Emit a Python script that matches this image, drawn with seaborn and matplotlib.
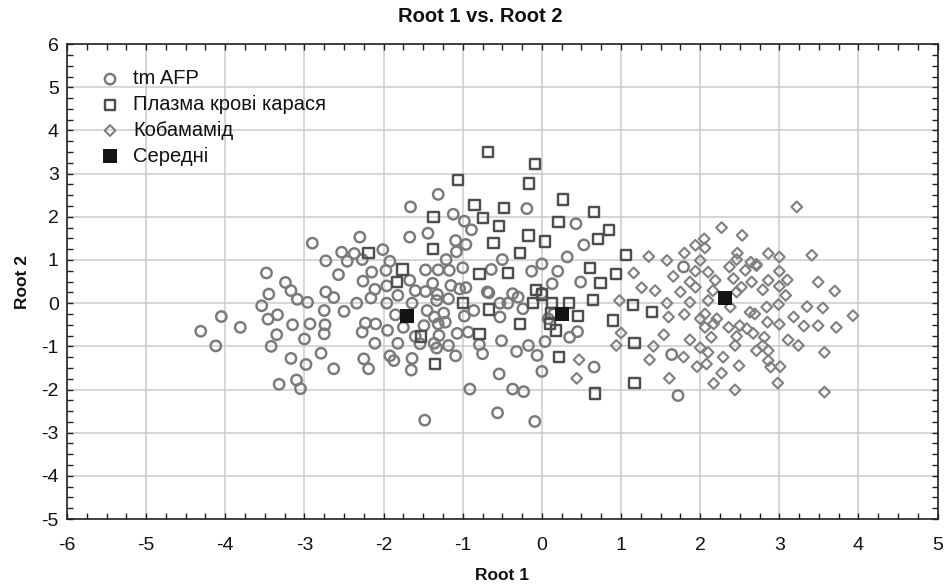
import matplotlib
matplotlib.use("Agg")
import matplotlib.pyplot as plt
from matplotlib.ticker import MultipleLocator
import seaborn as sns
import pandas as pd

# ---- data ----
afp_x = [-4.31, -4.12, -4.05, -3.81, -3.48, -3.45, -3.54, -3.46, -3.34, -3.35, -3.42, -2.90,
         -3.24, -3.17, -3.09, -2.96, -3.15, -2.93, -3.00, -3.17, -2.98, -3.32, -3.10, -3.05,
         -2.73, -2.53, -2.46, -2.57, -2.73, -2.63, -2.75, -2.50, -2.74, -2.75, -2.79, -2.63,
         -1.31, -1.66, -1.12, -0.98, -0.89, -1.44, -1.67, -1.09, -0.96, -1.08, -2.30, -2.01,
         -2.37, -2.27, -1.92, -1.21, -2.15, -1.97, -1.47, -1.31, -1.17, -1.00, -2.26, -2.11,
         -1.96, -1.67, -1.60, -1.47, -1.38, -1.32, -1.15, -1.04, -0.96, -0.69, -2.16, -2.34,
         -1.96, -1.82, -1.64, -1.33, -1.18, -0.86, -1.85, -1.45, -1.36, -1.24, -0.98, -2.23,
         -2.10, -2.27, -1.95, -1.75, -1.49, -1.31, -1.22, -1.07, -0.93, -1.60, -1.30, -2.11,
         -1.82, -1.54, -1.36, -1.18, -0.79, -1.33, -0.75, -1.09, -1.92, -1.87, -2.25, -2.19,
         -1.64, -1.65, -0.91, -1.48, -0.56, -0.37, -0.23, -0.09, -0.54, 0.00, 0.66, -0.19,
         0.43, 0.53, 0.32, 0.00, -0.13, 0.20, 0.49, 0.13, -0.50, -0.64, -0.67, -0.37,
         -0.53, -0.43, -0.24, -0.53, 0.00, 0.15, 0.45, 0.35, 0.04, -0.17, -0.06, -0.32,
         -0.51, -0.30, 0.08, 1.79, 1.64, 1.72]
afp_y = [-0.65, -0.99, -0.31, -0.56, 0.70, 0.21, -0.06, -0.37, -0.27, -0.73, -1.00, 1.39,
         0.48, 0.29, 0.09, 0.02, -0.50, -0.48, -0.83, -1.28, -1.42, -1.88, -1.78, -1.98,
         0.98, 1.18, 0.97, 0.66, 0.26, 0.13, -0.17, -0.19, -0.50, -0.71, -1.16, -1.52,
         2.52, 2.23, 2.06, 1.90, 1.70, 1.62, 1.53, 1.45, 1.36, 1.19, 1.53, 1.24,
         1.15, 1.01, 0.97, 1.01, 0.72, 0.76, 0.77, 0.77, 0.76, 0.82, 0.51, 0.32,
         0.40, 0.53, 0.29, 0.27, 0.46, 0.20, 0.41, 0.33, 0.36, 0.26, 0.12, 0.00,
         0.00, 0.18, 0.00, 0.06, 0.10, -0.17, -0.27, -0.17, -0.32, -0.23, -0.30, -0.46,
         -0.48, -0.67, -0.63, -0.56, -0.52, -0.48, -0.44, -0.70, -0.67, -0.77, -0.75, -0.93,
         -0.93, -0.94, -0.93, -0.98, -0.96, -1.04, -1.17, -1.22, -1.22, -1.33, -1.29, -1.52,
         -1.28, -1.55, -1.99, -2.71, -2.54, -1.99, -2.05, -2.74, -1.64, -1.58, -1.48, 2.19,
         1.84, 1.35, 1.07, 0.91, 0.74, 0.74, 0.49, 0.45, 1.01, 0.78, 0.24, 0.22,
         0.00, 0.00, -0.13, -0.32, 0.23, -0.25, -0.66, -0.79, -0.89, -0.98, -1.21, -1.12,
         -0.87, 0.14, -0.36, 0.84, -1.19, -2.14]

plasma_x = [-0.68, -0.09, -1.06, -0.16, 0.27, -0.85, -0.48, -0.74, -1.37, -0.54, 0.21, 0.66,
            0.85, 0.71, -0.17, 0.04, -0.61, -0.28, -1.38, 1.06, -2.19, -1.76, -1.83, -0.79,
            -0.43, 0.61, 0.94, 0.74, -0.07, 0.00, -1.00, -0.67, -0.11, 0.13, 0.34, 0.65,
            1.15, 0.46, 0.90, -0.28, 0.10, 0.18, 0.12, -0.79, -1.53, 1.17, 0.22, -1.35,
            1.17, 0.67, 1.39]
plasma_y = [3.50, 3.22, 2.85, 2.77, 2.40, 2.27, 2.21, 1.98, 2.00, 1.78, 1.88, 2.11,
            1.69, 1.49, 1.57, 1.43, 1.40, 1.16, 1.26, 1.11, 1.16, 0.78, 0.49, 0.67,
            0.70, 0.82, 0.68, 0.46, 0.31, 0.20, 0.01, -0.15, 0.01, 0.01, 0.01, 0.08,
            -0.05, -0.29, -0.40, -0.48, -0.48, -0.63, -0.23, -0.71, -0.77, -0.92, -1.25, -1.41,
            -1.85, -2.09, -0.21]

coba_x = [2.27, 2.53, 2.05, 1.94, 2.06, 1.35, 1.58, 1.80, 2.00, 2.47, 2.46, 2.64,
          1.16, 1.66, 1.94, 2.10, 2.37, 2.57, 2.71, 1.26, 1.43, 1.75, 1.87, 1.94,
          2.19, 2.16, 2.42, 2.52, 2.65, 1.58, 1.87, 2.10, 2.46, 1.60, 1.80, 2.00,
          2.06, 2.21, 2.38, 2.63, 2.69, 2.06, 2.17, 2.36, 2.50, 2.59, 1.54, 1.87,
          2.14, 2.46, 1.41, 2.00, 2.10, 2.44, 1.36, 1.79, 1.96, 2.08, 2.29, 2.49,
          1.61, 2.27, 2.17, 2.44, 0.98, 1.00, 0.94, 0.47, 0.44, 2.98, 2.89, 3.01,
          2.86, 2.79, 2.81, 2.67, 2.86, 2.71, 3.00, 2.85, 3.18, 3.31, 3.49, 3.72,
          3.93, 3.55, 3.35, 2.99, 2.84, 3.08, 3.00, 3.10, 3.00, 2.86, 2.79, 2.71,
          2.86, 3.00, 3.41, 3.49, 3.70, 3.22, 3.57, 3.57, 3.24, 3.11]
coba_y = [1.75, 1.57, 1.49, 1.34, 1.28, 1.08, 0.99, 1.16, 0.99, 1.16, 1.01, 0.95,
          0.70, 0.62, 0.74, 0.72, 0.84, 0.76, 0.87, 0.36, 0.29, 0.26, 0.49, 0.37,
          0.53, 0.29, 0.57, 0.37, 0.49, 0.00, 0.02, 0.06, 0.26, -0.32, -0.26, -0.36,
          -0.25, -0.36, -0.09, -0.21, -0.25, -0.56, -0.48, -0.56, -0.52, -0.59, -0.73, -0.85,
          -0.79, -0.77, -1.00, -1.03, -1.14, -0.98, -1.31, -1.25, -1.47, -1.41, -1.25, -1.45,
          -1.74, -1.62, -1.86, -2.01, 0.06, -0.69, -0.98, -1.31, -1.74, -1.85, -1.48, -1.47,
          -1.33, -0.98, -0.79, -0.70, -1.10, -1.10, -0.49, -0.44, -0.32, -0.53, -0.52, -0.56,
          -0.29, -0.11, -0.08, -0.03, -0.09, 0.18, 0.39, 0.54, 0.74, 0.53, 0.31, 0.90,
          1.15, 1.07, 1.11, 0.49, 0.28, 2.23, -1.14, -2.06, -0.98, -0.85]

mean_x = [-1.71, 0.25, 2.31]
mean_y = [-0.30, -0.25, 0.12]

group_labels = ["tm AFP", "Плазма крові карася", "Кобамамід", "Середні"]
x_ticks = list(range(-6, 6))
y_ticks = list(range(-5, 7))

sns.set_theme(style="white")
plt.rcParams["font.family"] = ["Liberation Sans", "DejaVu Sans"]
plt.rcParams["axes.unicode_minus"] = False

fig = plt.figure(figsize=(9.5, 5.87), dpi=100)
ax = fig.add_axes([0.0705, 0.1158, 0.9165, 0.809])

afp = pd.DataFrame({"x": afp_x, "y": afp_y})
pla = pd.DataFrame({"x": plasma_x, "y": plasma_y})
cob = pd.DataFrame({"x": coba_x, "y": coba_y})
mea = pd.DataFrame({"x": mean_x, "y": mean_y})

sns.scatterplot(data=afp, x="x", y="y", ax=ax, marker="o", s=56, facecolor="none",
                edgecolor="#7a7a7a", linewidth=1.75, label=group_labels[0], zorder=3)
sns.scatterplot(data=pla, x="x", y="y", ax=ax, marker="s", s=55, facecolor="none",
                edgecolor="#4e4e4e", linewidth=1.75, label=group_labels[1], zorder=3)
sns.scatterplot(data=cob, x="x", y="y", ax=ax, marker="D", s=30, facecolor="none",
                edgecolor="#7f7f7f", linewidth=1.5, label=group_labels[2], zorder=3)
sns.scatterplot(data=mea, x="x", y="y", ax=ax, marker="s", s=90, color="#141414",
                edgecolor="#141414", linewidth=0, label=group_labels[3], zorder=4)

ax.set_xlim(-6, 5)
ax.set_ylim(-5, 6)
ax.set_xticks(x_ticks)
ax.set_yticks(y_ticks)
ax.xaxis.set_minor_locator(MultipleLocator(0.25))
ax.yaxis.set_minor_locator(MultipleLocator(0.25))
ax.grid(True, which="major", color="#cbcbcb", linewidth=1.1, zorder=0)
ax.set_axisbelow(True)

for sp in ax.spines.values():
    sp.set_visible(True)
    sp.set_color("#222222")
    sp.set_linewidth(1.2)

ax.tick_params(which="both", direction="in", top=True, right=True, bottom=True, left=True,
               color="#222222")
ax.tick_params(which="major", length=4, width=1, labelsize=14, labelcolor="#111111")
ax.tick_params(axis="x", which="major", pad=13)
ax.tick_params(axis="y", which="major", pad=6)
ax.tick_params(which="minor", length=4, width=1)

ax.set_xlabel("Root 1", fontsize=12.5, fontweight="bold", color="#111111", labelpad=10)
ax.set_ylabel("Root 2", fontsize=12.5, fontweight="bold", color="#111111", labelpad=8)
fig.text(0.505, 1 - 16 / 587, "Root 1 vs. Root 2", fontsize=14.5, fontweight="bold",
         color="#111111", ha="center", va="center")

leg = ax.legend(loc="upper left", bbox_to_anchor=(0.024, 0.968), frameon=False,
                fontsize=14.5, labelspacing=0.33, handletextpad=0.55, borderpad=0,
                handlelength=1.2, markerscale=1.0)
for t in leg.get_texts():
    t.set_color("#111111")

fig.savefig("out.png", dpi=100)
